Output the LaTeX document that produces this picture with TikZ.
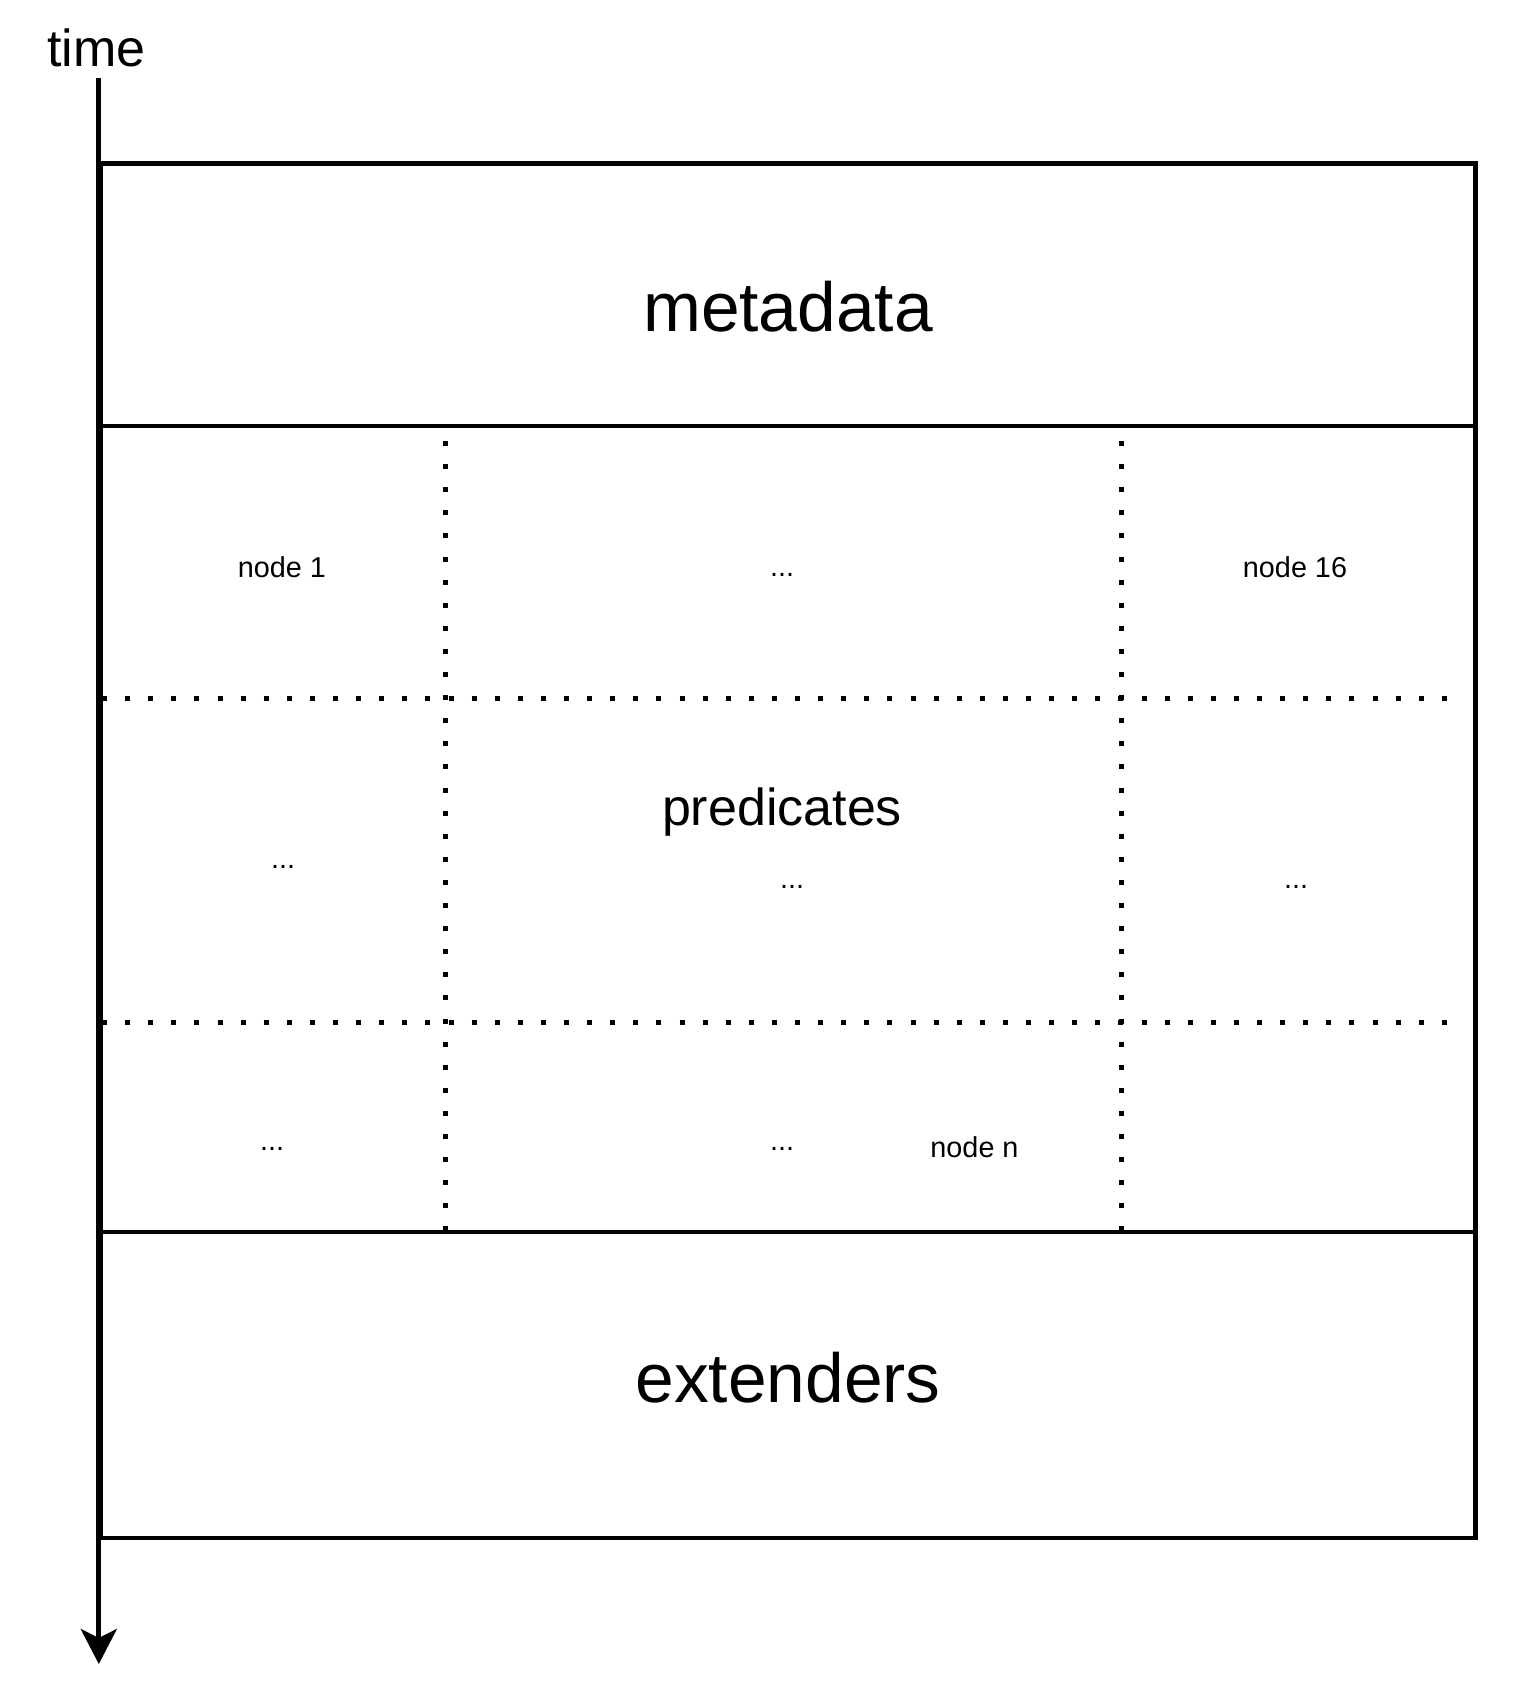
\documentclass[tikz,border=0pt]{standalone}
\usepackage{fontspec}
\setmainfont{Liberation Sans}
\usetikzlibrary{arrows.meta}

\tikzset{
  frame/.style={line width=4.8pt, line join=miter},
  gridline/.style={line width=5pt, dash pattern=on 5pt off 18.1pt},
  label/.style={anchor=base, inner sep=0pt},
  big/.style={label, font=\fontsize{69.5}{80}\selectfont},
  mid/.style={label, font=\fontsize{52}{60}\selectfont},
  small/.style={label, font=\fontsize{28.8}{34}\selectfont},
  timeaxis/.style={line width=5pt, -{Stealth[length=35pt, width=36pt, inset=9pt]}}
}

\begin{document}
\begin{tikzpicture}[x=1pt, y=-1pt]
  % canvas
  \path[use as bounding box, fill=white] (0,0) rectangle (1538,1692);

  % outer block and its three sections
  \coordinate (tl) at (100.5,163.7);
  \coordinate (br) at (1475.8,1538);
  \draw[frame] (tl) rectangle (br);
  \coordinate (metaL) at (100.5,426);
  \coordinate (metaR) at (1475.8,426);
  \coordinate (extL) at (100.5,1232);
  \coordinate (extR) at (1475.8,1232);
  \draw[frame] (metaL) -- (metaR);
  \draw[frame] (extL) -- (extR);

  % dotted grid of the predicates section
  \coordinate (v1a) at (445,441);  \coordinate (v1b) at (445,1232);
  \coordinate (v2a) at (1121,441); \coordinate (v2b) at (1121,1232);
  \coordinate (h1a) at (102,698);  \coordinate (h1b) at (1447,698);
  \coordinate (h2a) at (102,1022); \coordinate (h2b) at (1447,1022);
  \draw[gridline] (v1a) -- (v1b);
  \draw[gridline] (v2a) -- (v2b);
  \draw[gridline] (h1a) -- (h1b);
  \draw[gridline] (h2a) -- (h2b);

  % time axis
  \node[label, font=\fontsize{52}{60}\selectfont] (time) at (96.5,66) {time};
  \coordinate (tstart) at (98.8,78);
  \coordinate (tend) at (98.8,1664);
  \draw[timeaxis] (tstart) -- (tend);

  % section titles
  \node[big] (metadata) at (788,331) {metadata};
  \node[big] (extenders) at (788,1402) {extenders};
  \node[mid] (predicates) at (782,825) {predicates};

  % cells
  \node[small] (n1) at (282,577) {node 1};
  \node[small] (d12) at (782,576) {...};
  \node[small] (n16) at (1295,577) {node 16};
  \node[small] (d21) at (283,868) {...};
  \node[small] (d22) at (792,888) {...};
  \node[small] (d23) at (1296,888) {...};
  \node[small] (d31) at (272,1150) {...};
  \node[small] (d32) at (782,1150) {...};
  \node[small] (nn) at (974.5,1157) {node n};
\end{tikzpicture}
\end{document}
